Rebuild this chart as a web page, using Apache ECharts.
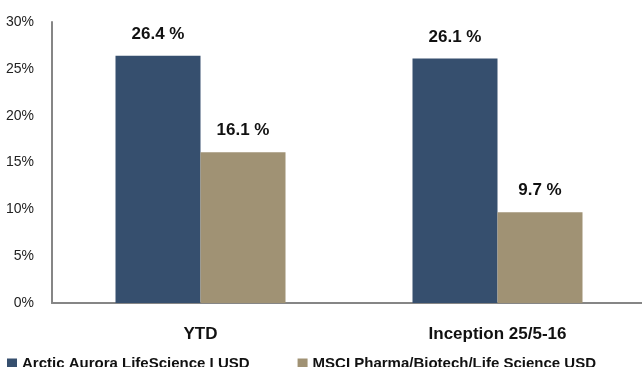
<!DOCTYPE html>
<html>
<head>
<meta charset="utf-8">
<script src="https://cdn.jsdelivr.net/npm/echarts@6/dist/echarts.min.js"></script>
<style>
  html, body { margin: 0; padding: 0; background: #fff; overflow: hidden; }
  /* canvas runs a little past the right edge so the x axis line reaches it */
  #chart { width: 660px; height: 367px; }
</style>
</head>
<body>
<div id="chart"></div>
<script>
// Returns (%) for the fund and its benchmark
const categories = ['YTD', 'Inception 25/5-16'];
const fundName = 'Arctic Aurora LifeScience I USD';
const benchName = 'MSCI Pharma/Biotech/Life Science USD';
const fundValues = [26.4, 26.1];
const benchValues = [16.1, 9.7];
const yTicks = [0, 5, 10, 15, 20, 25, 30];

const FONT = '"Liberation Sans", Arial, sans-serif';

const chart = echarts.init(document.getElementById('chart'), null, { renderer: 'canvas' });

const labelStyle = {
  show: true,
  position: 'top',
  distance: 13,
  formatter: p => p.value.toFixed(1) + ' %',
  fontFamily: FONT,
  fontWeight: 'bold',
  fontSize: 17,
  color: '#111'
};

chart.setOption({
  animation: false,
  textStyle: { fontFamily: FONT },
  grid: { left: 52, width: 594, top: 22, bottom: 64, containLabel: false },
  legend: {
    left: 2,
    top: 351,
    itemWidth: 10,
    itemHeight: 10,
    itemGap: 48,
    icon: 'rect',
    textStyle: { fontFamily: FONT, fontWeight: 'bold', fontSize: 15, color: '#111' },
    data: [fundName, benchName]
  },
  xAxis: {
    type: 'category',
    data: categories,
    axisLine: { lineStyle: { color: '#868686', width: 2 } },
    axisTick: { show: false },
    axisLabel: { fontFamily: FONT, fontWeight: 'bold', fontSize: 17, color: '#111', margin: 23 }
  },
  yAxis: {
    type: 'value',
    min: yTicks[0],
    max: yTicks[yTicks.length - 1],
    interval: 5,
    axisLine: { show: true, lineStyle: { color: '#868686', width: 2 } },
    axisTick: { show: false },
    splitLine: { show: false },
    axisLabel: { formatter: '{value}%', fontFamily: FONT, fontSize: 14, color: '#222', margin: 18 }
  },
  series: [
    {
      name: fundName,
      type: 'bar',
      data: fundValues,
      barWidth: 85,
      barGap: '0%',
      itemStyle: { color: '#364F6E' },
      label: labelStyle
    },
    {
      name: benchName,
      type: 'bar',
      data: benchValues,
      barWidth: 85,
      itemStyle: { color: '#A09274' },
      label: labelStyle
    }
  ]
});
</script>
</body>
</html>
